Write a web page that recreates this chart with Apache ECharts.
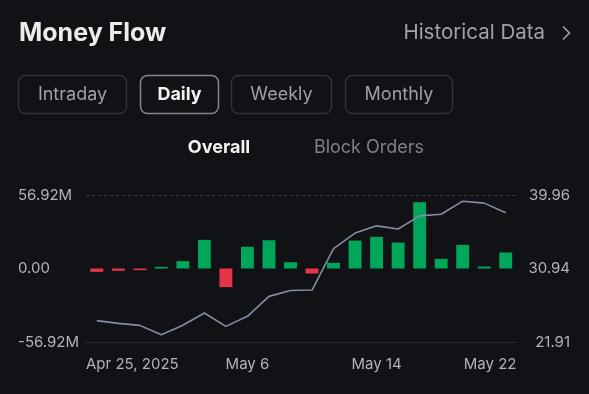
<!DOCTYPE html>
<html>
<head>
<meta charset="utf-8">
<script src="https://cdn.jsdelivr.net/npm/echarts@6/dist/echarts.min.js"></script>
<style>
html,body{margin:0;padding:0;background:#111215;}
#c{width:589px;height:394px;}
</style>
</head>
<body>
<div id="c"></div>
<script>
// ---- data ----
const dates = ['Apr 25, 2025','Apr 28','Apr 29','Apr 30','May 1','May 2','May 5','May 6','May 7','May 8',
               'May 9','May 12','May 13','May 14','May 15','May 16','May 19','May 20','May 21','May 22'];
const labelIndices = [0, 7, 13, 19];
const netFlow = [-2.6, -1.8, -1.3, 1.3, 5.7, 22.2, -14.4, 16.8, 21.9, 4.9,
                 -3.9, 4.4, 21.6, 24.5, 20.1, 51.3, 7.5, 18.3, 1.5, 12.4];
const price = [24.53, 24.2, 23.95, 22.8, 23.96, 25.47, 23.83, 25.06, 27.51, 28.24,
               28.29, 33.38, 35.28, 36.17, 35.78, 37.4, 37.6, 39.2, 38.96, 37.77];
const leftTicks = [-56.92, 0, 56.92];
const rightTicks = [21.91, 30.94, 39.96];
const tabs = ['Intraday', 'Daily', 'Weekly', 'Monthly'];
const subTabs = ['Overall', 'Block Orders'];

const FONT = 'Inter, "Noto Sans", sans-serif';
const GREEN = '#00a65a';
const RED = '#e5334b';
const LABEL_FONT_SIZE = 15;

// measure label width so first/last labels can sit flush with the plot edges
const mctx = document.createElement('canvas').getContext('2d');
mctx.font = LABEL_FONT_SIZE + 'px ' + FONT;
const halfBand = 10.75; // half category width: label edge aligned to the plot edge

const chart = echarts.init(document.getElementById('c'), null, {renderer: 'canvas'});

const tabBoxes = [
  {x: 18.5, w: 108},
  {x: 140.5, w: 78},
  {x: 231.5, w: 100},
  {x: 345.5, w: 107}
];
const graphics = [];
graphics.push({
  type: 'text', style: {
    x: 19, y: 33, text: 'Money Flow', fill: '#ececec', font: '700 25px ' + FONT, textVerticalAlign: 'middle'
  }
});
graphics.push({
  type: 'text', style: {
    x: 545, y: 33, text: 'Historical Data', fill: '#a3a3a6', font: '400 20.5px ' + FONT,
    textAlign: 'right', textVerticalAlign: 'middle'
  }
});
graphics.push({
  type: 'polyline', shape: {points: [[563, 26.5], [569.5, 33], [563, 39.5]]},
  style: {stroke: '#a3a3a6', lineWidth: 1.6, fill: null}
});
tabs.forEach((t, i) => {
  const b = tabBoxes[i];
  const sel = i === 1;
  graphics.push({
    type: 'rect', shape: {x: b.x, y: 75.5, width: b.w, height: 38, r: 7},
    style: {fill: 'rgba(0,0,0,0)', stroke: sel ? '#85878b' : '#303236', lineWidth: 1.5}
  });
  graphics.push({
    type: 'text', style: {
      x: b.x + b.w / 2, y: 95, text: t,
      fill: sel ? '#f2f2f2' : '#a0a0a3',
      font: (sel ? '700 ' : '400 ') + '18px ' + FONT,
      textAlign: 'center', textVerticalAlign: 'middle'
    }
  });
});
graphics.push({
  type: 'text', style: {
    x: 219, y: 148, text: subTabs[0], fill: '#f2f2f2', font: '700 18px ' + FONT,
    textAlign: 'center', textVerticalAlign: 'middle'
  }
});
graphics.push({
  type: 'text', style: {
    x: 369, y: 148, text: subTabs[1], fill: '#7f8083', font: '400 18px ' + FONT,
    textAlign: 'center', textVerticalAlign: 'middle'
  }
});

const first = labelIndices[0], last = labelIndices[labelIndices.length - 1];
const richStyles = {
  n: {fontSize: LABEL_FONT_SIZE, fontFamily: FONT, color: '#b4b4b7'}
};
function xLabel(value, idx) {
  const w = mctx.measureText(value).width;
  if (idx === first) {
    richStyles.f = {fontSize: LABEL_FONT_SIZE, fontFamily: FONT, color: '#b4b4b7',
      padding: [0, 0, 0, Math.max(0, w - 2 * halfBand)]};
    return '{f|' + value + '}';
  }
  if (idx === last) {
    richStyles.l = {fontSize: LABEL_FONT_SIZE, fontFamily: FONT, color: '#b4b4b7',
      padding: [0, Math.max(0, w - 2 * halfBand), 0, 0]};
    return '{l|' + value + '}';
  }
  return '{n|' + value + '}';
}
// precompute rich styles
xLabel(dates[first], first); xLabel(dates[last], last);

chart.setOption({
  backgroundColor: '#111215',
  animation: false,
  graphic: graphics,
  grid: {left: 86, right: 72.5, top: 195, bottom: 52, containLabel: false},
  xAxis: {
    type: 'category',
    data: dates,
    boundaryGap: true,
    axisLine: {onZero: false, lineStyle: {color: '#2b2d31', width: 1}},
    axisTick: {show: false},
    axisLabel: {
      interval: (idx) => labelIndices.indexOf(idx) >= 0,
      color: '#b4b4b7', fontSize: LABEL_FONT_SIZE, fontFamily: FONT, margin: 15,
      formatter: xLabel,
      rich: richStyles
    },
    splitLine: {show: false}
  },
  yAxis: [
    {
      type: 'value', min: leftTicks[0], max: leftTicks[2], interval: leftTicks[2],
      axisLine: {show: false}, axisTick: {show: false},
      axisLabel: {
        color: '#b4b4b7', fontSize: 15, fontFamily: FONT, align: 'left', margin: 68,
        formatter: (v) => Math.abs(v) < 1e-9 ? '0.00' : v.toFixed(2) + 'M'
      },
      splitLine: {show: true, lineStyle: {color: ['rgba(0,0,0,0)', 'rgba(0,0,0,0)', '#3a3c40'], type: [3, 3], width: 1}}
    },
    {
      type: 'value', min: rightTicks[0], max: rightTicks[2],
      axisLine: {show: false}, axisTick: {show: false},
      axisLabel: {
        customValues: rightTicks,
        color: '#b4b4b7', fontSize: 15, fontFamily: FONT, align: 'right', margin: 53.5,
        formatter: (v) => v.toFixed(2)
      },
      splitLine: {show: false}
    }
  ],
  series: [
    {
      type: 'bar', yAxisIndex: 0, barWidth: '60%',
      data: netFlow.map(v => ({value: v, itemStyle: {color: v >= 0 ? GREEN : RED}}))
    },
    {
      type: 'line', yAxisIndex: 1, data: price, showSymbol: false, symbol: 'none',
      lineStyle: {color: '#848ea3', width: 1.6}, z: 5
    }
  ]
});
</script>
</body>
</html>
